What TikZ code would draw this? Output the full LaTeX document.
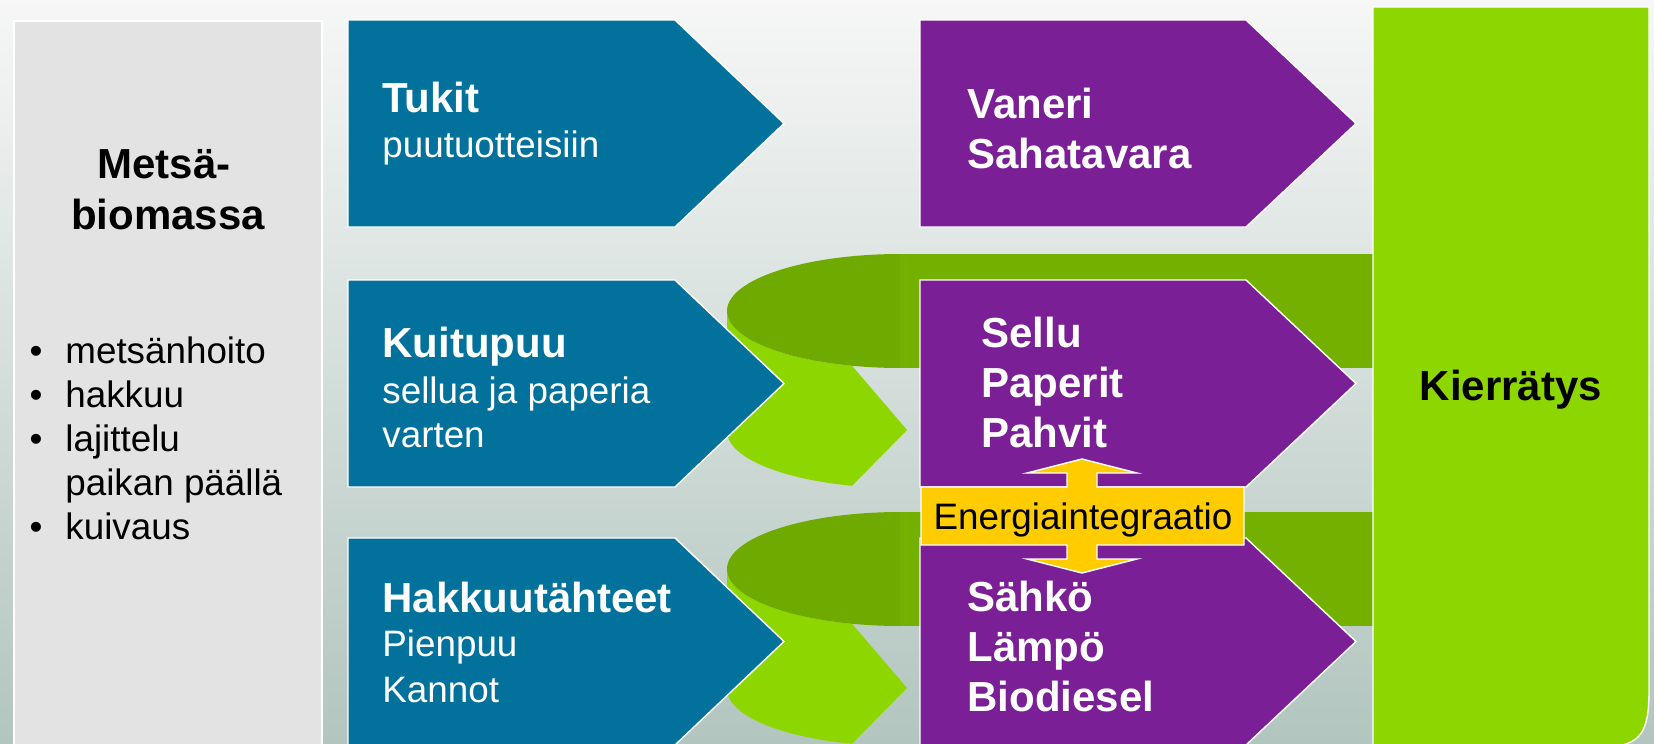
\documentclass[tikz,border=0pt]{standalone}
\usepackage{fontspec}
\setmainfont{Liberation Sans}
\definecolor{bgtop}{RGB}{246,247,246}
\definecolor{bgbot}{RGB}{178,197,191}
\definecolor{boxgray}{RGB}{227,227,227}
\definecolor{fblue}{RGB}{2,114,157}
\definecolor{fpurple}{RGB}{123,31,150}
\definecolor{lgreen}{RGB}{141,214,0}
\definecolor{dgreen}{RGB}{111,170,0}
\definecolor{dgreenb}{RGB}{116,176,0}
\definecolor{fyellow}{RGB}{255,204,0}
\begin{document}
\begin{tikzpicture}[x=0.5pt,y=-0.5pt,
  edge/.style={draw=white, line width=0.7pt},
  headtxt/.style={font=\fontsize{21}{25}\selectfont\bfseries, inner sep=0pt, anchor=base west},
  subtxt/.style={font=\fontsize{18.4}{22}\selectfont, inner sep=0pt, anchor=base west},
  bluearrow/.style={fill=fblue, edge},
  purplearrow/.style={fill=fpurple, edge}]
\useasboundingbox (0,0) rectangle (1654,744);
\clip (0,0) rectangle (1654,744);
% background
\shade[top color=bgtop, bottom color=bgbot] (0,0) rectangle (1654,744);
% left box
\path[fill=boxgray, edge] (14,21) rectangle (322,750);
% green U-turn arrows
\foreach \o in {0,258}{
  \fill[dgreenb] (900,{254+\o}) rectangle (1375,{368+\o});
  \fill[lgreen] plot[domain=180:106.1, samples=40, variable=\a] ({900+173*cos(\a)},{311+\o+57*sin(\a)})
     -- (907,{430+\o})
     -- plot[domain=106.1:180, samples=40, variable=\a] ({900+173*cos(\a)},{431+\o+57*sin(\a)}) -- cycle;
  \fill[dgreen] plot[domain=270:90, samples=80, variable=\a] ({900+173*cos(\a)},{311+\o+57*sin(\a)}) -- cycle;
}
% blue arrows
\foreach \t in {20,280,538}{
  \path[bluearrow] (348,\t) -- (675,\t) -- (784,{\t+103.5}) -- (675,{\t+207}) -- (348,{\t+207}) -- cycle;
}
% purple arrows
\foreach \t in {20,280,538}{
  \path[purplearrow] (920,\t) -- (1246,\t) -- (1356,{\t+103.5}) -- (1246,{\t+207}) -- (920,{\t+207}) -- cycle;
}
% recycling bar
\path[fill=lgreen, edge] (1373,7) -- (1649,7) -- (1649,690) .. controls (1649,735) and (1640,744) .. (1606,748) -- (1373,748) -- cycle;
% energy double arrow
\path[fill=fyellow, edge] (921,487) -- (1067,487) -- (1067,473) -- (1027,473) -- (1082,459) -- (1137,473) -- (1097,473) -- (1097,487)
  -- (1244,487) -- (1244,545) -- (1097,545) -- (1097,559) -- (1137,559) -- (1082,573) -- (1027,559) -- (1067,559) -- (1067,545)
  -- (921,545) -- cycle;
\node[font=\fontsize{18.4}{22}\selectfont, inner sep=0pt, anchor=base] (energia) at (1083,529) {Energiaintegraatio};
% left texts
\node[headtxt, anchor=base] (metsa) at (164,178) {Metsä-};
\node[headtxt, anchor=base] (biomassa) at (168,229) {biomassa};
\node[subtxt, anchor=base] (b1) at (36,363) {•};
\node[subtxt] (l1) at (65,363) {metsänhoito};
\node[subtxt, anchor=base] (b2) at (36,407) {•};
\node[subtxt] (l2) at (65,407) {hakkuu};
\node[subtxt, anchor=base] (b3) at (36,451) {•};
\node[subtxt] (l3) at (65,451) {lajittelu};
\node[subtxt] (l4) at (65,495) {paikan päällä};
\node[subtxt, anchor=base] (b5) at (36,539) {•};
\node[subtxt] (l5) at (65,539) {kuivaus};
% blue texts
\begin{scope}[every node/.append style={text=white}]
\node[headtxt] (tukit) at (382,112) {Tukit};
\node[subtxt] (tukit2) at (382,157) {puutuotteisiin};
\node[headtxt] (kuitu) at (382,357) {Kuitupuu};
\node[subtxt] (kuitu2) at (382,403) {sellua ja paperia};
\node[subtxt] (kuitu3) at (382,447) {varten};
\node[headtxt] (hakkuu) at (382,612) {Hakkuutähteet};
\node[subtxt] (hakkuu2) at (382,656) {Pienpuu};
\node[subtxt] (hakkuu3) at (382,702) {Kannot};
% purple texts
\node[headtxt] (vaneri) at (967,118) {Vaneri};
\node[headtxt] (saha) at (967,168) {Sahatavara};
\node[headtxt] (sellu) at (981,347) {Sellu};
\node[headtxt] (paperit) at (981,397) {Paperit};
\node[headtxt] (pahvit) at (981,447) {Pahvit};
\node[headtxt] (sahko) at (967,611) {Sähkö};
\node[headtxt] (lampo) at (967,661) {Lämpö};
\node[headtxt] (biodiesel) at (967,711) {Biodiesel};
\end{scope}
\node[headtxt, anchor=base] (kierratys) at (1511,400) {Kierrätys};
\end{tikzpicture}
\end{document}
